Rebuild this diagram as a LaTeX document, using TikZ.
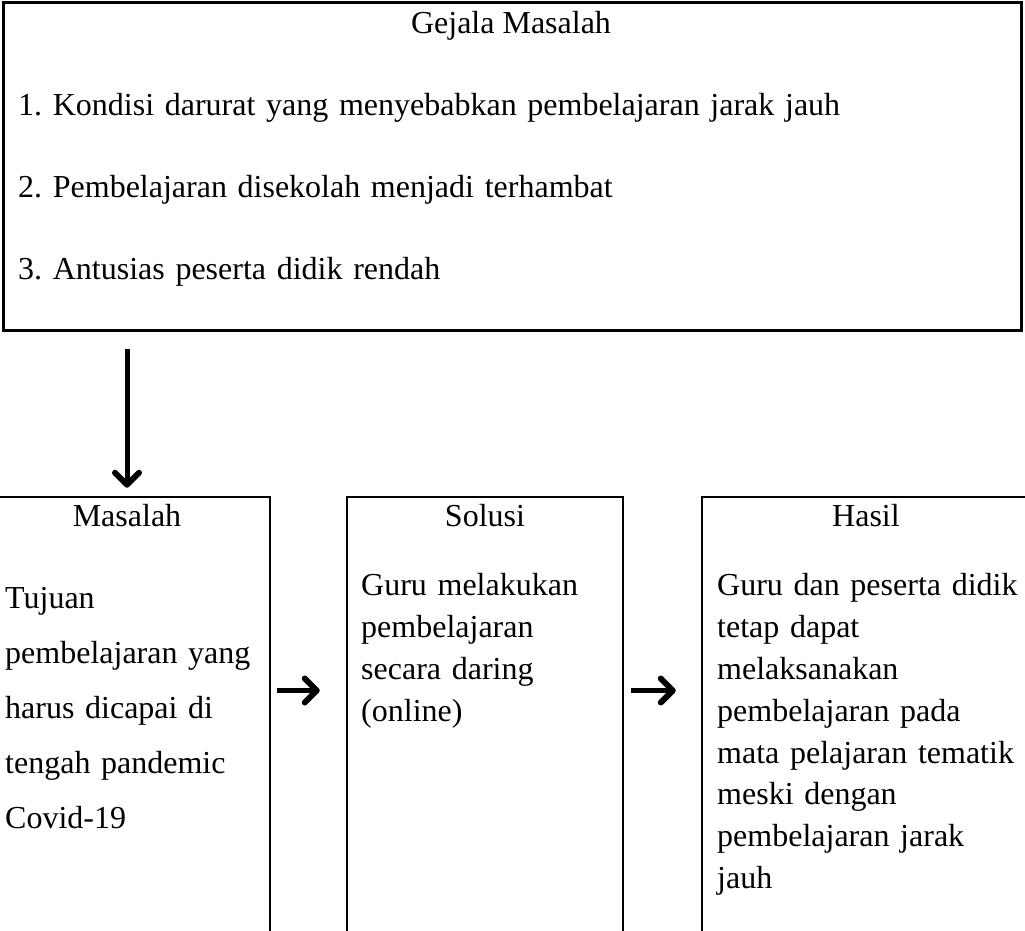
\documentclass[tikz,border=0pt]{standalone}
\usepackage{fontspec}
\setmainfont{Liberation Serif}
\usetikzlibrary{arrows.meta}
\frenchspacing

\begin{document}
\begin{tikzpicture}[x=1pt, y=1pt, font=\fontsize{32}{42}\selectfont,
    box/.style={draw, line width=2.5pt, inner sep=0pt},
    head/.style={anchor=base, inner sep=0pt},
    txt/.style={anchor=base west, inner sep=0pt, align=left, text width=#1},
    arr/.style={-{Straight Barb[length=12pt, width=24pt, line width=6pt, round]}, line width=5pt}]
    \useasboundingbox (0,0) rectangle (1025,930);
    \clip (0,0) rectangle (1025,930);
    % top box
    \node[box, line width=3pt, minimum width=1018pt, minimum height=328pt] (gejala) at (512,763) {};
    \node[head] (gejalahead) at (511,896) {Gejala Masalah};
    \node[txt=950pt, font=\fontsize{32}{82}\selectfont] (gejalalist) at (18,814)
        {1. Kondisi darurat yang menyebabkan pembelajaran jarak jauh\\
         2. Pembelajaran disekolah menjadi terhambat\\
         3. Antusias peserta didik rendah};
    % bottom boxes (cut off at the page edge)
    \node[box, minimum width=286pt, minimum height=463pt] (masalah) at (127,201.5) {};
    \node[box, minimum width=276pt, minimum height=463pt] (solusi) at (485,201.5) {};
    \node[box, minimum width=328pt, minimum height=463pt] (hasil) at (866,201.5) {};
    \node[head] (masalahhead) at (127,403) {Masalah};
    \node[head] (solusihead) at (485,403) {Solusi};
    \node[head] (hasilhead) at (866,403) {Hasil};
    \node[txt=260pt, font=\fontsize{32}{55}\selectfont] (masalahtxt) at (5,322)
        {Tujuan\\pembelajaran yang\\harus dicapai di\\tengah pandemic\\Covid-19};
    \node[txt=255pt] (solusitxt) at (361,335)
        {Guru melakukan\\pembelajaran\\secara daring\\(online)};
    \node[txt=340pt] (hasiltxt) at (717,335)
        {Guru dan peserta didik\\tetap dapat\\melaksanakan\\pembelajaran pada\\mata pelajaran tematik\\meski dengan\\pembelajaran jarak\\jauh};
    % arrows
    \draw[arr, shorten <=17pt, shorten >=8pt] (gejala.south -| masalah.north) -- (masalah.north);
    \draw[arr, shorten <=6pt, shorten >=26pt] ([yshift=38pt]masalah.east) -- ([yshift=38pt]solusi.west);
    \draw[arr, shorten <=7pt, shorten >=25pt] ([yshift=38pt]solusi.east) -- ([yshift=38pt]hasil.west);
\end{tikzpicture}
\end{document}
